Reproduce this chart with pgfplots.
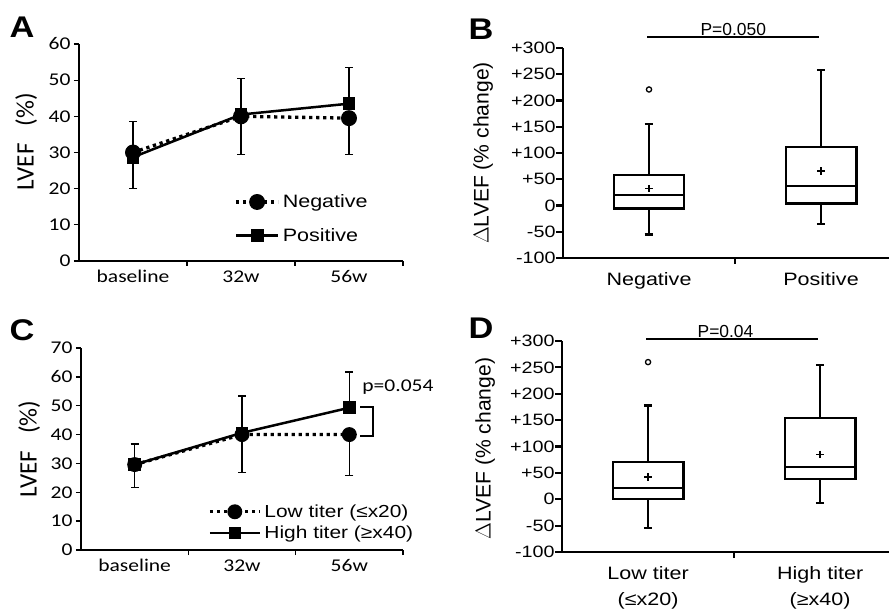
\documentclass[border=0pt]{standalone}
\usepackage{fontspec}
\setmainfont{Liberation Sans}
\newfontfamily\ar{Liberation Sans}
\newfontfamily\ca{Carlito}
\usepackage{pgfplots}
\pgfplotsset{compat=1.18}
\newcommand\fs[1]{\fontsize{#1}{#1}\selectfont}
\newcommand\sx[1]{\scalebox{1.2}[1]{#1}}
\pgfplotsset{
  lineax/.style={
    scale only axis, anchor=south west, axis lines*=left,
    axis line style={line width=1.4bp, black},
    xmin=0, xmax=3, xtick={0.5,1.5,2.5}, xticklabels={\sx{baseline},\sx{32w},\sx{56w}},
    minor xtick={1,2,3}, major x tick style={draw=none},
    tick align=outside, tick style={line width=1.3bp, black},
    major tick length=5bp, minor tick length=5bp,
    ticklabel style={font=\ca\fs{18}},
    xticklabel style={yshift=-1bp},
    clip=false,
    legend cell align=left,
    legend image code/.code={\draw[mark repeat=2,mark phase=2,##1] plot coordinates {(0bp,0bp) (21bp,0bp) (42bp,0bp)};},
  },
  boxax/.style={
    scale only axis, anchor=south west, axis lines*=left,
    axis line style={line width=2.4bp, black},
    xmin=0, ymin=-100, ymax=300,
    xtick={0.5,1.5}, minor xtick={1},
    major x tick style={draw=none},
    ytick={-100,-50,0,50,100,150,200,250,300},
    yticklabels={\sx{-100},\sx{-50},\sx{0},\sx{+50},\sx{+100},\sx{+150},\sx{+200},\sx{+250},\sx{+300}},
    tick align=outside, tick style={line width=2.2bp, black},
    major tick length=7bp, minor tick length=6bp,
    ticklabel style={font=\ar\fs{16.5}},
    yticklabel style={xshift=3bp},
    xticklabel style={font=\ar\fontsize{18}{26}\selectfont, align=center, yshift=-4bp},
    clip=false,
  },
  negst/.style={black, line width=3.3bp, dash pattern=on 3.3bp off 3.7bp, mark=*, mark size=6.3bp, mark options={solid}},
  posst/.style={black, line width=2.5bp, mark=square*, mark size=5.2bp, mark options={solid}},
  errst/.style={error bars/.cd, y dir=#1, y explicit, error bar style={line width=1.3bp, black, solid}, error mark options={rotate=90, mark size=4bp, line width=1.3bp, black, solid}},
  bxst/.style={black, solid, line width=2.4bp, mark=none},
}
\begin{document}
\begin{tikzpicture}
\useasboundingbox (0,0) rectangle (889bp,609bp);
% panel letters
\node[font=\ar\bfseries\fs{30}] at (22bp,582bp) {\scalebox{1.15}[1]{A}};
\node[font=\ar\bfseries\fs{30}] at (481bp,580bp) {\scalebox{1.15}[1]{B}};
\node[font=\ar\bfseries\fs{30}] at (22bp,279bp) {\scalebox{1.15}[1]{C}};
\node[font=\ar\bfseries\fs{30}] at (481bp,281bp) {\scalebox{1.15}[1]{D}};

% ---------- A ----------
\begin{axis}[lineax, at={(79bp,348bp)}, width=324bp, height=217bp,
  ymin=0, ymax=60, ytick={0,10,...,60},
  yticklabels={\sx{0},\sx{10},\sx{20},\sx{30},\sx{40},\sx{50},\sx{60}},
  legend style={at={(0.47,0.32)}, anchor=north west, draw=none, fill=none,
    font=\ar\fs{18}, row sep=17bp, nodes={inner sep=1bp},
    /tikz/every odd column/.style={column sep=2bp}}]
\addplot[negst, errst=minus] coordinates {
  (0.5,30) +- (0,10)
  (1.5,40) +- (0,10.5)
  (2.5,39.5) +- (0,10)
};
\addlegendentry{\sx{Negative}}
\addplot[posst, errst=plus] coordinates {
  (0.5,28.7) +- (0,9.8)
  (1.5,40.5) +- (0,10)
  (2.5,43.5) +- (0,10)
};
\addlegendentry{\sx{Positive}}
\node[rotate=90, font=\ca\fs{18.5}, anchor=center, inner sep=0] at (axis description cs:-0.163,0.55) {\scalebox{1.36}{LVEF~~~(\%)}};
\end{axis}

% ---------- B ----------
\begin{axis}[boxax, at={(563bp,351bp)}, width=326bp, height=210bp, xmax=1.895,
  xticklabels={\sx{Negative},\sx{Positive}}]
% Negative box
\addplot[bxst] coordinates {(0.295,-6) (0.705,-6) (0.705,58) (0.295,58)} --cycle;
\addplot[bxst] coordinates {(0.295,20) (0.705,20)};
\addplot[bxst] coordinates {(0.5,58) (0.5,155)};
\addplot[bxst] coordinates {(0.5,-6) (0.5,-55)};
\addplot[bxst] coordinates {(0.475,155) (0.525,155)};
\addplot[bxst] coordinates {(0.475,-55) (0.525,-55)};
% Positive box
\addplot[bxst] coordinates {(1.295,4) (1.705,4) (1.705,111) (1.295,111)} --cycle;
\addplot[bxst] coordinates {(1.295,37) (1.705,37)};
\addplot[bxst] coordinates {(1.5,111) (1.5,258)};
\addplot[bxst] coordinates {(1.5,4) (1.5,-35)};
\addplot[bxst] coordinates {(1.475,258) (1.525,258)};
\addplot[bxst] coordinates {(1.475,-35) (1.525,-35)};
\addplot[only marks, mark=o, mark size=2.6bp, line width=1.3bp, black] coordinates {(0.5,221)};
\addplot[only marks, mark=+, mark size=3.8bp, line width=1.4bp, black] coordinates {(0.5,32) (1.5,66)};
\draw[line width=1.8bp] (axis cs:0.49,321) -- (axis cs:1.49,321);
\node[font=\ar\fs{17.5}, anchor=south, inner sep=1.5bp] at (axis cs:0.99,321) {P=0.050};
\node[rotate=90, font=\ar\fs{16.8}, anchor=center, inner sep=0] at (axis description cs:-0.245,0.5) {\scalebox{1.26}{$\Delta$LVEF (\% change)}};
\end{axis}

% ---------- C ----------
\begin{axis}[lineax, at={(81bp,59bp)}, width=322bp, height=202bp,
  ymin=0, ymax=70, ytick={0,10,...,70},
  yticklabels={\sx{0},\sx{10},\sx{20},\sx{30},\sx{40},\sx{50},\sx{60},\sx{70}},
  legend style={at={(0.385,0.24)}, anchor=north west, draw=none, fill=none,
    font=\ar\fs{17.5}, row sep=5bp, nodes={inner sep=1bp},
    /tikz/every odd column/.style={column sep=2bp}},
  legend image code/.code={\draw[mark repeat=2,mark phase=2,#1] plot coordinates {(0bp,0bp) (25bp,0bp) (50bp,0bp)};}]
\addplot[negst, mark size=5.8bp, errst=minus] coordinates {
  (0.5,29.6) +- (0,7.9)
  (1.5,40) +- (0,13.1)
  (2.5,40) +- (0,14.3)
};
\addlegendentry{\sx{Low titer (≤x20)}}
\addplot[posst, mark size=5bp, errst=plus] coordinates {
  (0.5,29.6) +- (0,7.1)
  (1.5,40.6) +- (0,12.8)
  (2.5,49.3) +- (0,12.4)
};
\addlegendentry{\sx{High titer (≥x40)}}
\draw[line width=1.4bp] (axis cs:2.6,49.6) -- (axis cs:2.72,49.6) -- (axis cs:2.72,39.5) -- (axis cs:2.6,39.5);
\node[font=\ca\fs{18}, anchor=west, inner sep=0] at (axis cs:2.62,56.5) {\sx{p=0.054}};
\node[rotate=90, font=\ca\fs{18.5}, anchor=center, inner sep=0] at (axis description cs:-0.161,0.5) {\scalebox{1.36}{LVEF~~~(\%)}};
\end{axis}

% ---------- D ----------
\begin{axis}[boxax, at={(562bp,57bp)}, width=327bp, height=211bp, xmax=1.9,
  xticklabels={{\sx{Low titer}\\\sx{(≤x20)}},{\sx{High titer}\\\sx{(≥x40)}}}]
\addplot[bxst] coordinates {(0.295,0) (0.705,0) (0.705,71) (0.295,71)} --cycle;
\addplot[bxst] coordinates {(0.295,21.5) (0.705,21.5)};
\addplot[bxst] coordinates {(0.5,71) (0.5,178)};
\addplot[bxst] coordinates {(0.5,0) (0.5,-55)};
\addplot[bxst] coordinates {(0.475,178) (0.525,178)};
\addplot[bxst] coordinates {(0.475,-55) (0.525,-55)};
\addplot[bxst] coordinates {(1.295,38) (1.705,38) (1.705,154) (1.295,154)} --cycle;
\addplot[bxst] coordinates {(1.295,61) (1.705,61)};
\addplot[bxst] coordinates {(1.5,154) (1.5,255)};
\addplot[bxst] coordinates {(1.5,38) (1.5,-7)};
\addplot[bxst] coordinates {(1.475,255) (1.525,255)};
\addplot[bxst] coordinates {(1.475,-7) (1.525,-7)};
\addplot[only marks, mark=o, mark size=2.6bp, line width=1.3bp, black] coordinates {(0.5,260)};
\addplot[only marks, mark=+, mark size=3.8bp, line width=1.4bp, black] coordinates {(0.5,42) (1.5,85)};
\draw[line width=1.8bp] (axis cs:0.49,304) -- (axis cs:1.49,304);
\node[font=\ar\fs{17.5}, anchor=south, inner sep=1.5bp] at (axis cs:0.95,304) {P=0.04};
\node[rotate=90, font=\ar\fs{16.8}, anchor=center, inner sep=0] at (axis description cs:-0.235,0.49) {\scalebox{1.26}{$\Delta$LVEF (\% change)}};
\end{axis}
\end{tikzpicture}
\end{document}
